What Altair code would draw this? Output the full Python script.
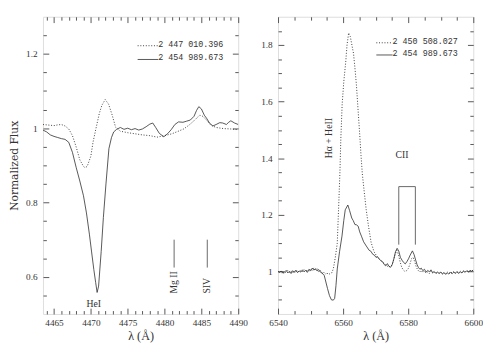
import altair as alt
import pandas as pd

# ---------------- data ----------------
# Left panel: He I 4471 region  (wavelength, normalized flux)
left_dotted = [
    (4463.5, 1.010), (4464.0, 1.009), (4464.5, 1.008), (4465.0, 1.007), (4465.5, 1.009),
    (4466.0, 1.010), (4466.5, 1.006), (4467.0, 0.998), (4467.5, 0.980), (4468.0, 0.950),
    (4468.5, 0.915), (4469.0, 0.897), (4469.2, 0.894), (4469.5, 0.897), (4470.0, 0.925),
    (4470.3, 0.963), (4470.7, 1.000), (4471.15, 1.040), (4471.5, 1.062), (4471.95, 1.077),
    (4472.4, 1.065), (4472.9, 1.035), (4473.35, 1.003), (4474.0, 0.992), (4475.0, 0.988),
    (4476.0, 0.985), (4477.0, 0.982), (4478.0, 0.980), (4479.0, 0.976), (4480.0, 0.980),
    (4481.0, 0.985), (4482.0, 0.993), (4482.6, 0.998), (4483.3, 1.008), (4484.0, 1.020),
    (4484.5, 1.030), (4484.8, 1.035), (4485.2, 1.032), (4485.7, 1.022), (4486.1, 1.012),
    (4486.55, 1.006), (4487.0, 1.002), (4488.0, 0.999), (4489.0, 0.998), (4490.0, 0.996),
]
left_solid = [
    (4463.5, 0.995), (4464.0, 0.990), (4464.5, 0.982), (4465.0, 0.978), (4465.5, 0.975),
    (4466.0, 0.972), (4466.5, 0.970), (4467.0, 0.962), (4467.5, 0.935), (4468.0, 0.895),
    (4468.5, 0.858), (4469.0, 0.818), (4469.4, 0.772), (4469.8, 0.715), (4470.1, 0.667),
    (4470.4, 0.620), (4470.65, 0.585), (4470.85, 0.558), (4471.05, 0.575), (4471.4, 0.668),
    (4471.7, 0.760), (4472.05, 0.850), (4472.45, 0.945), (4472.8, 0.975), (4473.1, 0.990),
    (4473.5, 0.997), (4474.0, 1.002), (4474.5, 0.997), (4475.0, 1.000), (4475.5, 0.996),
    (4476.0, 0.999), (4476.5, 0.995), (4477.0, 0.998), (4477.5, 1.004), (4478.0, 1.011),
    (4478.4, 1.014), (4478.8, 1.002), (4479.3, 0.986), (4479.9, 0.977), (4480.4, 0.985),
    (4480.9, 0.996), (4481.4, 1.010), (4481.9, 1.017), (4482.5, 1.016), (4483.0, 1.019),
    (4483.5, 1.022), (4484.0, 1.032), (4484.35, 1.048), (4484.65, 1.058), (4485.0, 1.052),
    (4485.4, 1.035), (4485.7, 1.027), (4486.1, 1.014), (4486.55, 1.006), (4487.0, 1.010),
    (4487.5, 1.015), (4487.9, 1.014), (4488.4, 1.010), (4488.7, 1.016), (4489.0, 1.020),
    (4489.5, 1.014), (4490.0, 1.010),
]
# Right panel: H-alpha region
right_dotted = [
    (6540.0, 0.998), (6540.5, 1.003), (6541.0, 0.995), (6541.5, 1.000), (6542.0, 0.993),
    (6542.5, 0.999), (6543.0, 1.004), (6543.5, 0.996), (6544.0, 1.002), (6544.5, 0.995),
    (6545.0, 1.001), (6545.5, 0.997), (6546.0, 1.004), (6546.5, 0.998), (6547.0, 1.003),
    (6547.5, 0.999), (6548.0, 1.007), (6548.5, 1.001), (6549.0, 1.006), (6549.5, 1.000),
    (6550.0, 1.008), (6550.5, 1.004), (6551.0, 1.013), (6551.5, 1.006), (6552.0, 1.010),
    (6552.5, 1.000), (6553.0, 1.004), (6553.5, 0.994), (6554.0, 0.998), (6554.5, 0.990),
    (6555.0, 0.996), (6555.5, 0.989), (6556.0, 0.993), (6556.5, 0.995), (6557.0, 1.010),
    (6557.6, 1.050), (6558.2, 1.100), (6558.6, 1.220), (6559.0, 1.345), (6559.3, 1.470),
    (6559.7, 1.590), (6560.2, 1.670), (6560.8, 1.740), (6561.2, 1.800), (6561.7, 1.843),
    (6562.2, 1.830), (6562.7, 1.800), (6563.2, 1.770), (6563.7, 1.710), (6564.1, 1.657),
    (6564.6, 1.570), (6565.1, 1.484), (6565.5, 1.410), (6565.9, 1.345), (6566.5, 1.280),
    (6567.1, 1.218), (6567.8, 1.160), (6568.6, 1.103), (6569.5, 1.070), (6570.3, 1.055),
    (6571.1, 1.044), (6572.0, 1.035), (6573.0, 1.025), (6574.0, 1.015), (6574.5, 1.020),
    (6575.0, 1.022), (6575.5, 1.040), (6576.0, 1.062), (6576.5, 1.075), (6577.0, 1.060),
    (6577.5, 1.035), (6578.0, 1.015), (6578.5, 1.005), (6579.0, 1.000), (6579.5, 1.003),
    (6580.0, 1.010), (6580.5, 1.025), (6581.0, 1.045), (6581.5, 1.050), (6582.0, 1.035),
    (6582.5, 1.015), (6583.0, 1.005), (6583.5, 0.998), (6584.0, 1.004), (6584.5, 0.996),
    (6585.0, 1.002), (6585.5, 0.994), (6586.0, 0.999), (6586.5, 0.993), (6587.0, 1.001),
    (6587.5, 0.995), (6588.0, 0.998), (6588.5, 0.992), (6589.0, 0.997), (6589.5, 0.994),
    (6590.0, 0.999), (6590.5, 0.991), (6591.0, 0.996), (6591.5, 0.993), (6592.0, 0.998),
    (6592.5, 0.994), (6593.0, 0.999), (6593.5, 0.995), (6594.0, 1.000), (6594.5, 0.994),
    (6595.0, 0.998), (6595.5, 0.996), (6596.0, 1.001), (6596.5, 0.995), (6597.0, 1.002),
    (6597.5, 0.998), (6598.0, 1.004), (6598.5, 0.999), (6599.0, 1.003), (6599.5, 1.001),
    (6600.0, 1.005),
]
right_solid = [
    (6540.0, 1.000), (6540.5, 0.996), (6541.0, 1.002), (6541.5, 0.994), (6542.0, 0.998),
    (6542.5, 1.004), (6543.0, 0.995), (6543.5, 1.001), (6544.0, 0.993), (6544.5, 1.003),
    (6545.0, 0.997), (6545.5, 1.005), (6546.0, 0.996), (6546.5, 1.002), (6547.0, 0.998),
    (6547.5, 1.006), (6548.0, 0.999), (6548.5, 1.004), (6549.0, 0.997), (6549.5, 1.008),
    (6550.0, 1.003), (6550.5, 1.012), (6551.0, 1.005), (6551.5, 1.010), (6552.0, 1.002),
    (6552.5, 1.007), (6553.0, 0.998), (6553.5, 0.995), (6554.2, 0.986), (6555.2, 0.940),
    (6555.8, 0.915), (6556.4, 0.900), (6557.0, 0.899), (6557.4, 0.905), (6557.8, 0.950),
    (6558.2, 1.009), (6558.9, 1.070), (6559.65, 1.125), (6560.2, 1.180), (6560.65, 1.218),
    (6561.45, 1.235), (6562.0, 1.215), (6562.65, 1.189), (6563.1, 1.180), (6563.63, 1.166),
    (6564.1, 1.165), (6564.63, 1.160), (6565.1, 1.140), (6565.63, 1.125), (6566.3, 1.105),
    (6567.13, 1.090), (6568.0, 1.075), (6568.5, 1.072), (6569.1, 1.061), (6569.6, 1.058),
    (6570.1, 1.050), (6570.6, 1.052), (6571.1, 1.044), (6571.6, 1.038), (6572.1, 1.035),
    (6572.6, 1.025), (6573.1, 1.020), (6573.6, 1.028), (6574.1, 1.018), (6574.6, 1.015),
    (6575.1, 1.025), (6575.6, 1.045), (6576.1, 1.070), (6576.6, 1.082), (6577.1, 1.072),
    (6577.6, 1.050), (6578.1, 1.040), (6578.6, 1.032), (6579.1, 1.027), (6579.6, 1.035),
    (6580.1, 1.045), (6580.6, 1.058), (6581.3, 1.073), (6581.8, 1.060), (6582.3, 1.040),
    (6582.7, 1.025), (6583.1, 1.015), (6583.6, 1.008), (6584.0, 1.012), (6584.5, 1.003),
    (6585.0, 1.008), (6585.5, 0.998), (6586.0, 1.004), (6586.5, 0.999), (6587.0, 1.006),
    (6587.5, 0.996), (6588.0, 1.000), (6588.5, 0.994), (6589.0, 0.998), (6589.5, 0.993),
    (6590.0, 0.997), (6590.5, 0.992), (6591.0, 0.996), (6591.5, 0.990), (6592.0, 0.995),
    (6592.5, 0.991), (6593.0, 0.997), (6593.5, 0.992), (6594.0, 0.998), (6594.5, 0.994),
    (6595.0, 1.000), (6595.5, 0.993), (6596.0, 0.999), (6596.5, 0.995), (6597.0, 1.002),
    (6597.5, 0.997), (6598.0, 1.003), (6598.5, 0.998), (6599.0, 1.004), (6599.5, 1.001),
    (6600.0, 1.006),
]

# legend labels (Julian dates)
left_legend = ["2 447 010.396", "2 454 989.673"]
right_legend = ["2 450 508.027", "2 454 989.673"]

# axis domains and ticks
left_xdom, left_ydom = [4463.5, 4490], [0.5, 1.3]
right_xdom, right_ydom = [6540, 6600], [0.85, 1.9]
left_xmajor = [4465, 4470, 4475, 4480, 4485, 4490]
left_xminor = [4464, 4466, 4467, 4468, 4469, 4471, 4472, 4473, 4474, 4476, 4477, 4478,
               4479, 4481, 4482, 4483, 4484, 4486, 4487, 4488, 4489]
left_ymajor = [0.6, 0.8, 1.0, 1.2]
left_yminor = [0.55, 0.65, 0.7, 0.75, 0.85, 0.9, 0.95, 1.05, 1.1, 1.15, 1.25]
right_xmajor = [6540, 6560, 6580, 6600]
right_xminor = [6545, 6550, 6555, 6565, 6570, 6575, 6585, 6590, 6595]
right_ymajor = [1.0, 1.2, 1.4, 1.6, 1.8]
right_yminor = [0.9, 0.95, 1.05, 1.1, 1.15, 1.25, 1.3, 1.35, 1.45, 1.5, 1.55, 1.65,
                1.7, 1.75, 1.85]

# line identifications: (label, wavelength, flux of text anchor)
left_labels = [("HeI", 4470.4, 0.528)]
left_vlabels = [("Mg II", 4481.3, 0.555), ("SIV", 4485.8, 0.555)]
left_marks = [(4481.3, 0.625, 0.70), (4485.8, 0.625, 0.70)]   # vertical line markers
right_vlabels = [("Hα + HeII", 6555.8, 1.40)]
right_labels = [("CII", 6578.1, 1.412)]
right_bracket_v = [(6577.1, 1.095, 1.30), (6582.2, 1.095, 1.30)]
right_bracket_h = [(6577.1, 6582.2, 1.30)]

# legend positions (data coords): line start, line end (= text start), y for each row
left_leg_pos = [(4476.35, 4479.15, 1.222), (4476.35, 4479.15, 1.185)]
right_leg_pos = [(6570.2, 6575.2, 1.808), (6570.2, 6575.2, 1.765)]

# ---------------- styling ----------------
SERIF = "Liberation Serif"
MONO = "Liberation Mono"
LINE = "#2a2a2a"
DOT = "#3a3a3a"
FRAME = "#555555"
TEXT = "#333333"
W, H = 201, 306
MAJ, MIN = 6, 3.5
DASH = [1.0, 1.8]


def pairs_df(pairs):
    return pd.DataFrame(pairs, columns=["lam", "flux"])


def panel(dotted, solid, xdom, ydom, xmaj, xmin, ymaj, ymin, ytitle,
          legend, leg_pos, labels, vlabels, vrules, hrules):
    sx = alt.Scale(domain=xdom, nice=False, zero=False)
    sy = alt.Scale(domain=ydom, nice=False, zero=False)
    ddf, sdf = pairs_df(dotted), pairs_df(solid)

    def X(axis, field="lam"):
        return alt.X(f"{field}:Q", scale=sx, axis=axis)

    def Y(axis, field="flux"):
        return alt.Y(f"{field}:Q", scale=sy, axis=axis)

    def tick_axis(orient, vals, size):
        return alt.Axis(orient=orient, values=vals, labels=False, domain=False,
                        ticks=True, tickSize=size, offset=-size, tickColor=FRAME,
                        tickWidth=1, grid=False, title=None)

    xlab = alt.Axis(orient="bottom", values=xmaj, ticks=False, domain=False, grid=False,
                    format="d", labelFlush=False, labelOverlap=False, labelPadding=4,
                    labelFont=SERIF, labelFontSize=9.5, labelColor=TEXT,
                    title="λ (Å)", titleFont=SERIF, titleFontSize=12.5,
                    titleFontWeight="normal", titleColor=TEXT, titlePadding=3)
    ylab = alt.Axis(orient="left", values=ymaj, ticks=False, domain=False, grid=False,
                    format="~g", labelFlush=False, labelOverlap=False, labelPadding=6,
                    labelFont=SERIF, labelFontSize=9.5, labelColor=TEXT,
                    title=ytitle if ytitle else None, titleFont="DejaVu Serif",
                    titleFontSize=11, titleFontWeight="normal", titleColor=TEXT,
                    titlePadding=6)

    layers = [
        alt.Chart(ddf).mark_line(color=DOT, strokeWidth=1, strokeDash=DASH, clip=True)
        .encode(x=X(xlab), y=Y(ylab)),
        alt.Chart(sdf).mark_line(color=LINE, strokeWidth=0.8, clip=True)
        .encode(x=X(tick_axis("bottom", xmaj, MAJ)), y=Y(tick_axis("left", ymaj, MAJ))),
        alt.Chart(sdf).mark_line(opacity=0)
        .encode(x=X(tick_axis("bottom", xmin, MIN)), y=Y(tick_axis("left", ymin, MIN))),
        alt.Chart(sdf).mark_line(opacity=0)
        .encode(x=X(tick_axis("top", xmaj, MAJ)), y=Y(tick_axis("right", ymaj, MAJ))),
        alt.Chart(sdf).mark_line(opacity=0)
        .encode(x=X(tick_axis("top", xmin, MIN)), y=Y(tick_axis("right", ymin, MIN))),
    ]

    # legend
    leg = pd.DataFrame({
        "x1": [p[0] for p in leg_pos], "x2": [p[1] for p in leg_pos],
        "y": [p[2] for p in leg_pos], "label": legend,
    })
    layers.append(alt.Chart(leg.iloc[[0]]).mark_rule(color=DOT, strokeWidth=1, strokeDash=DASH)
                  .encode(x=X(None, "x1"), x2="x2:Q", y=Y(None, "y")))
    layers.append(alt.Chart(leg.iloc[[1]]).mark_rule(color=LINE, strokeWidth=0.8)
                  .encode(x=X(None, "x1"), x2="x2:Q", y=Y(None, "y")))
    layers.append(alt.Chart(leg).mark_text(align="left", baseline="alphabetic", dy=1,
                                           font=MONO, fontSize=8.6, color=TEXT)
                  .encode(x=X(None, "x2"), y=Y(None, "y"), text="label:N"))

    # line identifications
    if labels:
        ldf = pd.DataFrame(labels, columns=["label", "lam", "flux"])
        layers.append(alt.Chart(ldf).mark_text(align="center", baseline="middle",
                                               font=SERIF, fontSize=10, color=TEXT)
                      .encode(x=X(None), y=Y(None), text="label:N"))
    if vlabels:
        vdf = pd.DataFrame(vlabels, columns=["label", "lam", "flux"])
        layers.append(alt.Chart(vdf).mark_text(align="left", baseline="middle", angle=270,
                                               font=SERIF, fontSize=10, color=TEXT)
                      .encode(x=X(None), y=Y(None), text="label:N"))
    if vrules:
        rdf = pd.DataFrame(vrules, columns=["lam", "f1", "f2"])
        layers.append(alt.Chart(rdf).mark_rule(color="#666666", strokeWidth=1)
                      .encode(x=X(None), y=Y(None, "f1"), y2="f2:Q"))
    if hrules:
        hdf = pd.DataFrame(hrules, columns=["l1", "l2", "flux"])
        layers.append(alt.Chart(hdf).mark_rule(color="#666666", strokeWidth=1)
                      .encode(x=X(None, "l1"), x2="l2:Q", y=Y(None)))

    return (alt.layer(*layers)
            .resolve_axis(x="independent", y="independent")
            .properties(width=W, height=H))


left = panel(left_dotted, left_solid, left_xdom, left_ydom, left_xmajor, left_xminor,
             left_ymajor, left_yminor, "Normalized Flux", left_legend, left_leg_pos,
             left_labels, left_vlabels, left_marks, None)
right = panel(right_dotted, right_solid, right_xdom, right_ydom, right_xmajor, right_xminor,
              right_ymajor, right_yminor, None, right_legend, right_leg_pos,
              right_labels, right_vlabels, right_bracket_v, right_bracket_h)

chart = (alt.hconcat(left, right, spacing=12)
         .properties(padding={"left": 0, "top": 3, "right": 0, "bottom": 0})
         .configure_view(stroke=FRAME, strokeWidth=1)
         .configure(background="white"))

chart.save("out.html", embed_options={"renderer": "svg", "actions": False})
